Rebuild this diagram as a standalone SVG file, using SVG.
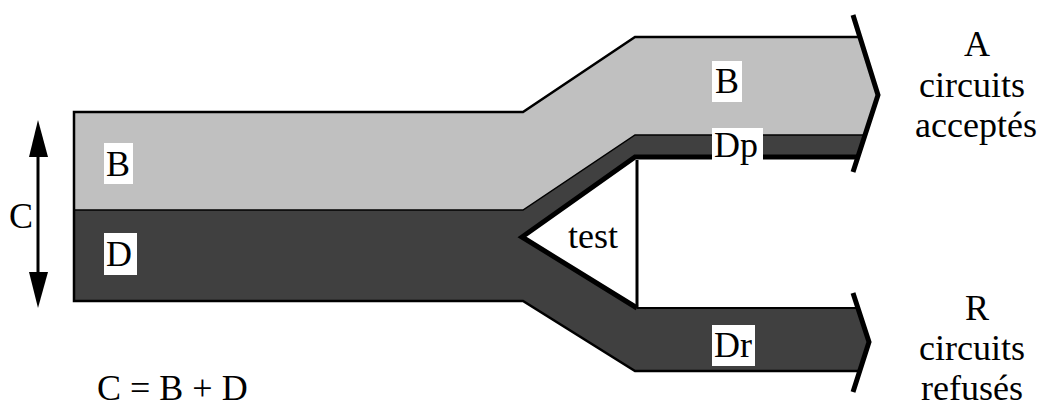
<svg xmlns="http://www.w3.org/2000/svg" width="1042" height="410" viewBox="0 0 1042 410">
<style>
.t{font-family:'Liberation Serif','Times New Roman',serif;font-size:36px;fill:#000}
.lbl{fill:#fff}
.ln{fill:none;stroke:#000;stroke-linejoin:miter}
</style>
<rect width="1042" height="410" fill="#fff"/>
<g id="flow-B">
<polygon points="74,112 523,112 635,37 860,37 878,95 865,135 635,135 523,210 74,210" fill="#c0c0c0"/>
</g>
<g id="flow-D">
<polygon points="74,210 523,210 635,135 865,135 858,157 635,157 522,237 637,308 858,308 869,342 860,371 635,371 523,301 74,301" fill="#404040"/>
</g>
<g id="test">
<polygon points="635,160 522,237 637,308" fill="#fff"/>
<text class="t" x="568" y="248">test</text>
</g>
<g id="connectors">
<polyline class="ln" stroke-width="2.5" points="74,210 74,112 523,112 635,37 860,37"/>
<polyline class="ln" stroke-width="2.5" points="74,210 74,301 523,301 635,371 860,371"/>
<polyline class="ln" stroke-width="1.5" points="74,210 523,210 635,135 865,135"/>
<polyline class="ln" stroke-width="5" points="858,157 635,157 522,237 637,308"/>
<polyline class="ln" stroke-width="2" points="637,308 858,308"/>
<line class="ln" stroke-width="3" x1="637" y1="160" x2="637" y2="308"/>
<polyline class="ln" stroke-width="5" points="853,15 878,95 853,172"/>
<polyline class="ln" stroke-width="5" points="853,293 869,342 853,392"/>
<line class="ln" stroke-width="3" x1="38" y1="150" x2="38" y2="280"/>
<polygon points="38,120 29,157 48,157" fill="#000"/>
<polygon points="38,308 29,272 48,272" fill="#000"/>
</g>
<g id="label-B-left">
<rect class="lbl" x="104" y="143" width="29" height="41"/>
<text class="t" x="106" y="176">B</text>
</g>
<g id="label-D-left">
<rect class="lbl" x="104" y="233" width="33" height="42"/>
<text class="t" x="106" y="266">D</text>
</g>
<g id="label-B-right">
<rect class="lbl" x="712" y="61" width="30" height="41"/>
<text class="t" x="715" y="93">B</text>
</g>
<g id="label-Dp">
<rect class="lbl" x="712" y="128" width="51" height="39"/>
<text class="t" x="714" y="157">Dp</text>
</g>
<g id="label-Dr">
<rect class="lbl" x="712" y="325" width="43" height="41"/>
<text class="t" x="714" y="357">Dr</text>
</g>
<g id="label-C">
<text class="t" x="9" y="228">C</text>
</g>
<g id="out-A">
<text class="t" x="977" y="56" text-anchor="middle">A</text>
<text class="t" x="972" y="97" text-anchor="middle">circuits</text>
<text class="t" x="976" y="137" text-anchor="middle">acceptés</text>
</g>
<g id="out-R">
<text class="t" x="977" y="320" text-anchor="middle">R</text>
<text class="t" x="972" y="360" text-anchor="middle">circuits</text>
<text class="t" x="972" y="400" text-anchor="middle">refusés</text>
</g>
<g id="formula">
<text class="t" x="97" y="400">C = B + D</text>
</g>
</svg>
